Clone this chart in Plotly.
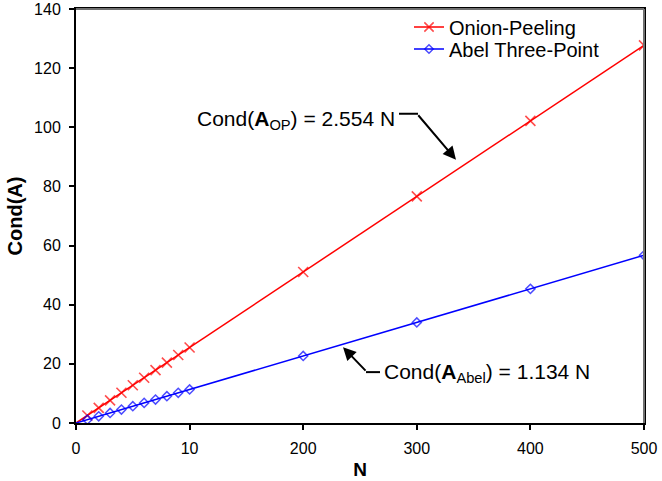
import plotly.graph_objects as go

# ---- data ----
N_values = [0, 1, 2, 3, 4, 5, 6, 7, 8, 9, 10, 200, 300, 400, 500]
cond_op = [0, 2.55, 5.11, 7.66, 10.22, 12.77, 15.32, 17.88, 20.43, 22.99, 25.54,
           51.08, 76.62, 102.16, 127.7]
cond_abel = [0, 1.13, 2.27, 3.40, 4.54, 5.67, 6.80, 7.94, 9.07, 10.21, 11.34,
             22.68, 34.02, 45.36, 56.70]
x_tick_labels = [0, 10, 200, 300, 400, 500]
y_tick_vals = [0, 20, 40, 60, 80, 100, 120, 140]


# broken x scale: 0..10 is stretched by 10, above it is linear
def xpos(n):
    return n * 10 if n <= 10 else n


xp = [xpos(n) for n in N_values]

W, H = 662, 481
L, R, T, B = 76, 18, 8, 58
PW, PH = W - L - R, H - T - B
XMAX, YMAX = 500, 140


def px2x(px):
    return (px - L) / PW * XMAX


def px2y(py):
    return (H - B - py) / PH * YMAX


def pyp(py):  # pixel y -> paper y
    return (H - B - py) / PH


def pxp(px):  # pixel x -> paper x
    return (px - L) / PW


marker_sizes_op = [0] + [10] * (len(N_values) - 1)
marker_sizes_ab = [0] + [7] * (len(N_values) - 1)

fig = go.Figure()
fig.add_trace(go.Scatter(
    x=xp, y=cond_op, mode="lines+markers", name="Onion-Peeling",
    line=dict(color="#FF0000", width=1.5), legend="legend",
    marker=dict(symbol="x-thin-open", size=marker_sizes_op,
                line=dict(color="#FF0000", width=1.6), color="#FF0000"),
))
fig.add_trace(go.Scatter(
    x=xp, y=cond_abel, mode="lines+markers", name="Abel Three-Point",
    line=dict(color="#0000FF", width=1.5), legend="legend2",
    marker=dict(symbol="diamond-open", size=marker_sizes_ab,
                line=dict(color="#0000FF", width=1.5), color="#0000FF"),
))

font_family = "Liberation Sans, Arial, sans-serif"
legend_common = dict(xanchor="left", yanchor="middle", bgcolor="rgba(0,0,0,0)",
                     borderwidth=0, font=dict(size=20, family=font_family),
                     itemwidth=30)

fig.update_layout(
    width=W, height=H,
    margin=dict(l=L, r=R, t=T, b=B, pad=0),
    paper_bgcolor="white", plot_bgcolor="white",
    font=dict(family=font_family, color="black", size=16),
    showlegend=True,
    legend=dict(x=pxp(409), y=pyp(27), **legend_common),
    legend2=dict(x=pxp(409), y=pyp(49), **legend_common),
    xaxis=dict(
        range=[0, XMAX], tickmode="array",
        tickvals=[xpos(v) for v in x_tick_labels],
        ticktext=[str(v) for v in x_tick_labels],
        ticks="outside", ticklen=5, tickwidth=1.5, tickcolor="black",
        showline=True, linecolor="black", linewidth=2, mirror=True,
        showgrid=False, zeroline=False, ticklabeloverflow="allow",
        automargin=False,
        tickfont=dict(size=16), ticklabelstandoff=5,
        title=dict(text="<b>N</b>", font=dict(size=19), standoff=6),
    ),
    yaxis=dict(
        range=[0, YMAX], tickmode="array", tickvals=y_tick_vals,
        ticks="outside", ticklen=5, tickwidth=1.5, tickcolor="black",
        showline=True, linecolor="black", linewidth=2, mirror=True,
        showgrid=False, zeroline=False, ticklabeloverflow="allow",
        automargin=False,
        tickfont=dict(size=16), ticklabelstandoff=5,
        title=dict(text="<b>Cond(A)</b>", font=dict(size=20), standoff=6),
    ),
)

# top and right frame (grey) over the mirrored lines
fig.add_shape(type="line", xref="paper", yref="paper", x0=0, x1=1, y0=1, y1=1,
              layer="above", line=dict(color="#707070", width=2))
fig.add_shape(type="line", xref="paper", yref="paper", x0=1, x1=1, y0=0, y1=1,
              layer="above", line=dict(color="#707070", width=2))

# callout 1 (Onion-Peeling)
fig.add_shape(type="line", xref="x", yref="y",
              x0=px2x(399), y0=px2y(113), x1=px2x(418), y1=px2y(113),
              line=dict(color="black", width=2))
fig.add_annotation(x=px2x(456), y=px2y(159), ax=px2x(417), ay=px2y(113),
                   axref="x", ayref="y", xref="x", yref="y", text="",
                   showarrow=True, arrowhead=2, arrowsize=1.3, arrowwidth=2,
                   arrowcolor="black")
fig.add_annotation(x=px2x(397), y=px2y(119), xref="x", yref="y",
                   xanchor="right", yanchor="middle", showarrow=False,
                   text="Cond(<b>A</b><sub>OP</sub>) = 2.554 N",
                   font=dict(size=21, family=font_family, color="black"))

# callout 2 (Abel)
fig.add_shape(type="line", xref="x", yref="y",
              x0=px2x(366), y0=px2y(372), x1=px2x(380), y1=px2y(372),
              line=dict(color="black", width=2))
fig.add_annotation(x=px2x(343), y=px2y(347), ax=px2x(367), ay=px2y(372),
                   axref="x", ayref="y", xref="x", yref="y", text="",
                   showarrow=True, arrowhead=2, arrowsize=1.3, arrowwidth=2,
                   arrowcolor="black")
fig.add_annotation(x=px2x(382), y=px2y(373), xref="x", yref="y",
                   xanchor="left", yanchor="middle", showarrow=False,
                   text="Cond(<b>A</b><sub>Abel</sub>) = 1.134 N",
                   font=dict(size=21, family=font_family, color="black"))

fig.write_html("out.html")
